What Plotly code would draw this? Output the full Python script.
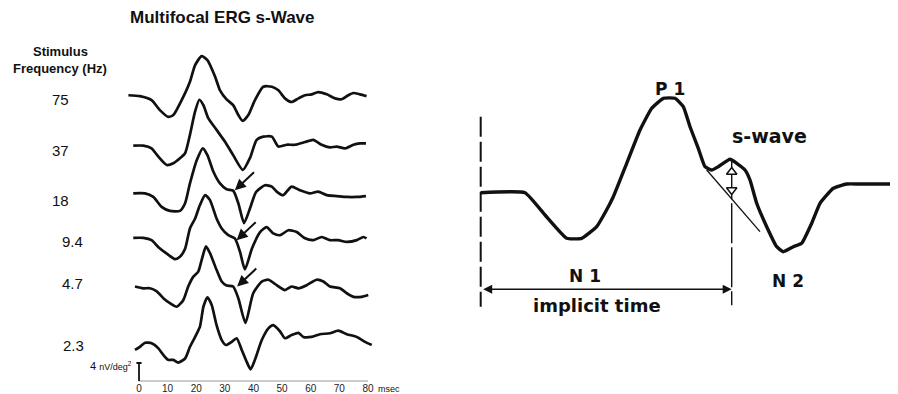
import plotly.graph_objects as go

# page body has an 8px margin: the figure is drawn from (8, 8) and fills the rest of the window
PAD = 8
W, H = 898 - PAD, 394 - PAD

# ---------------- data: multifocal ERG traces (ms, nV/deg^2) ----------------
freqs = ["75", "37", "18", "9.4", "4.7", "2.3"]

t75 = [-3.7, 0.3, 4.4, 7.3, 10.2, 12.0, 14.9, 17.8, 19.6, 21.9, 23.9, 26.6, 28.3, 30.6, 32.9,
       34.7, 36.2, 38.2, 40.5, 43.4, 46.4, 48.7, 51.0, 53.3, 55.7, 58.0, 60.3, 62.6, 65.6, 68.5,
       70.8, 73.1, 74.9, 77.2, 79.5]
a75 = [0.2, 0, -0.9, -3.1, -4.6, -4.2, -0.9, 3.2, 6.9, 8.9, 8.0, 4.3, 1.3, -0.7, -2.0,
       -4.2, -5.5, -4.2, -0.9, 2.1, 2.1, 1.3, -0.5, -1.3, -0.5, 0.2, 0.4, 0.9, 0.4, -0.5,
       -0.7, 0.2, 0.7, 0.4, 0]

t37 = [-2.0, 1.5, 4.4, 6.7, 9.7, 12.0, 14.3, 16.1, 17.8, 19.6, 21.1, 22.5, 24.2, 27.1, 30.0,
       32.9, 36.3, 38.8, 41.1, 43.4, 46.4, 48.7, 51.6, 54.5, 58.0, 60.9, 63.8, 66.7, 69.1, 72.0,
       74.9, 77.2, 79.3]
a37 = [0, 0, -0.6, -2.4, -4.3, -3.9, -2.8, -1.7, 2.4, 7.6, 10.2, 9.0, 6.1, 3.5, 0.9,
       -2.1, -5.4, -2.7, 1.3, 2.0, 2.0, -0.2, 0.2, 0.2, 0.8, 1.3, 0.2, -0.4, -0.2, -0.6,
       0.2, 0.5, 0.5]

t18 = [-2.0, 2.1, 5.0, 7.9, 10.8, 14.3, 16.1, 17.8, 20.2, 22.3, 23.9, 26.0, 28.3, 30.6, 32.9,
       34.7, 36.7, 38.8, 40.9, 44.0, 46.4, 48.1, 50.4, 53.3, 56.2, 59.7, 62.6, 65.6, 69.1, 72.6,
       76.1, 79.3]
a18 = [0, 0, -0.8, -3.0, -3.9, -3.9, -2.2, 2.2, 7.4, 10.0, 8.5, 4.8, 2.2, 0.9, 0.6,
       -2.2, -6.6, -3.3, 0.3, 1.8, 1.5, 0.4, -0.4, 1.5, 0.7, 0, 0.4, -0.4, -0.6, -0.8,
       -0.8, -0.6]

t94 = [-2.0, 1.5, 4.4, 6.7, 9.7, 12.6, 14.3, 16.1, 17.8, 19.6, 21.3, 23.1, 24.8, 27.1, 28.9,
       31.2, 33.5, 35.3, 37.0, 39.5, 42.3, 44.6, 46.9, 49.3, 52.2, 55.1, 58.0, 60.9, 63.8, 66.7,
       69.6, 72.6, 76.1, 78.4, 79.5]
a94 = [0, 0, -0.5, -2.0, -3.5, -4.7, -4.2, -2.4, 2.1, 4.3, 7.3, 9.5, 8.4, 4.3, 2.1,
       0.6, -0.1, -3.1, -7.0, -2.3, 1.3, 2.4, 1.0, 0.6, 1.7, 1.3, -0.1, -0.5, 0.2, -0.5,
       -0.5, -0.9, -0.5, 0.2, -0.1]

t47 = [-1.4, 1.5, 3.8, 6.2, 8.5, 10.8, 13.2, 15.5, 17.2, 19.0, 20.7, 21.9, 23.4, 24.8, 27.1,
       28.9, 30.6, 32.9, 34.7, 37.2, 39.9, 42.9, 45.2, 48.1, 51.0, 53.3, 55.7, 58.6, 62.1, 64.4,
       66.7, 70.2, 72.6, 74.9, 77.8, 80.1]
a47 = [0.1, -0.3, -0.3, -1.0, -2.5, -3.6, -4.4, -2.9, 0.1, 2.3, 3.4, 6.0, 9.0, 7.5, 3.8,
       1.2, 0.3, 0.1, -2.5, -8.0, -1.4, 1.2, 1.6, 0.4, -0.7, 0.1, -0.3, 0.4, 1.6, 1.2,
       0.1, -0.3, -1.4, -2.2, -2.2, -1.8]

t23 = [-1.4, 0.3, 2.1, 4.4, 6.7, 8.5, 10.2, 12.0, 13.7, 16.1, 17.8, 19.6, 21.3, 22.5, 23.9,
       25.4, 27.1, 28.9, 30.4, 32.4, 34.1, 35.9, 37.6, 39.0, 40.5, 42.9, 45.2, 46.9, 49.3, 51.0,
       53.3, 55.7, 57.4, 60.3, 63.2, 66.7, 69.6, 72.6, 76.1, 79.0, 81.3]
a23 = [-1.1, -0.4, 0.5, 0.4, -0.7, -2.2, -3.3, -3.3, -3.9, -3.0, -0.4, 1.8, 4.1, 8.5, 10.6,
       8.9, 4.4, 1.1, 0, 0.7, 1.5, -1.1, -3.7, -5.4, -3.3, 1.1, 3.7, 4.4, 3.0, 1.5,
       2.2, 2.7, 1.8, 1.8, 2.4, 2.6, 3.2, 2.4, 1.8, 0.7, 0]

# s-wave marks (arrows) on the 18, 9.4 and 4.7 Hz traces
swave_freq = ["18", "9.4", "4.7"]
swave_ms = [33.5, 34.1, 34.3]
swave_amp = [0.7, -0.5, 0.1]

tick_ms = [0, 10, 20, 30, 40, 50, 60, 70, 80]
scale_nv = 4

# ---------------- data: schematic waveform (arbitrary units) ----------------
sch_t = [0, 8.86, 12.86, 17.2, 20.2, 23.2, 25.06, 26.52, 29.2, 31.86, 34.2, 36.52, 38.86,
         40.52, 41.86, 43.52, 44.86, 46.2, 47.52, 49.86, 51.2, 52.86, 53.86, 55.2, 57.2,
         59.2, 60.52, 62.52, 64.2, 66.2, 67.86, 70.52, 73.2, 75.86, 83.4]
sch_a = [0, 0, -4.46, -9.12, -9.12, -6.8, -3.66, -0.8, 5.88, 12.54, 16.88, 18.88, 18.88,
         17.2, 13.2, 8.88, 5.2, 4.54, 5.2, 6.68, 5.88, 4.54, 2.54, -2.12, -6.8,
         -10.8, -11.8, -10.8, -10.12, -6.12, -2.12, 0.88, 1.74, 1.74, 1.74]
nos_t = [45.2, 55.86]          # course without the s-wave
nos_a = [4.54, -7.8]
implicit_end = 50.2
swave_top, swave_base = 4.14, 0.54

# ---------------- layout constants ----------------
offsets = [63.3, 52.3, 41.7, 31.8, 20.9, 8.0]   # vertical stacking of traces (nV)
X1 = [-4, 82]; X1_DOM = [(127.55 - PAD) / W, (373.7 - PAD) / W]
Y1 = [-2.889, 82.889]
X2 = [-4.14, 83.46]; X2_DOM = [(460 - PAD) / W, 1.0]
Y2 = [-40.26, 36.94]

fig = go.Figure()
ink = "#111111"
series = [(t75, a75), (t37, a37), (t18, a18), (t94, a94), (t47, a47), (t23, a23)]
for (t, a), off in zip(series, offsets):
    fig.add_trace(go.Scatter(x=t, y=[v + off for v in a], mode="lines",
                             line=dict(color=ink, width=2.7, shape="spline", smoothing=0.6),
                             xaxis="x", yaxis="y", hoverinfo="skip", showlegend=False))

# time axis line
fig.add_trace(go.Scatter(x=[tick_ms[0], tick_ms[-1]], y=[0, 0], mode="lines",
                         line=dict(color="#999999", width=1), xaxis="x", yaxis="y",
                         hoverinfo="skip", showlegend=False))
# calibration bar
fig.add_trace(go.Scatter(x=[0, 0, None, -0.9, 0.9], y=[0, scale_nv, None, scale_nv, scale_nv],
                         mode="lines", line=dict(color=ink, width=1.8), xaxis="x", yaxis="y",
                         hoverinfo="skip", showlegend=False))

# schematic
fig.add_trace(go.Scatter(x=sch_t, y=sch_a, mode="lines",
                         line=dict(color=ink, width=3.4, shape="spline", smoothing=0.4),
                         xaxis="x2", yaxis="y2", hoverinfo="skip", showlegend=False))
fig.add_trace(go.Scatter(x=nos_t, y=nos_a, mode="lines", line=dict(color=ink, width=1.3),
                         xaxis="x2", yaxis="y2", hoverinfo="skip", showlegend=False))
fig.add_trace(go.Scatter(x=[0, 0], y=[15.2, -22.8], mode="lines",
                         line=dict(color=ink, width=2, dash="20px,5px"),
                         xaxis="x2", yaxis="y2", hoverinfo="skip", showlegend=False))
fig.add_trace(go.Scatter(x=[implicit_end, implicit_end], y=[6.7, -22.5], mode="lines",
                         line=dict(color=ink, width=1.4, dash="40px,4px"),
                         xaxis="x2", yaxis="y2", hoverinfo="skip", showlegend=False))
fig.add_trace(go.Scatter(x=[implicit_end, implicit_end], y=[swave_top, swave_base], mode="markers",
                         marker=dict(symbol=["triangle-up", "triangle-down"], size=9, color="white",
                                     line=dict(color=ink, width=1.5)),
                         xaxis="x2", yaxis="y2", hoverinfo="skip", showlegend=False))

ann = []
def ptxt(text, px, py, size, bold=False, family="Liberation Sans, Arial", xanchor="center"):
    ann.append(dict(text=f"<b>{text}</b>" if bold else text, x=(px - PAD) / W,
                    y=1 - (py - PAD) / H, xref="paper", yref="paper", showarrow=False,
                    xanchor=xanchor, yanchor="middle",
                    font=dict(size=size, color=ink, family=family)))

ptxt("Multifocal ERG s-Wave", 222, 18, 17, bold=True)
ptxt("Stimulus", 60, 52, 13, bold=True)
ptxt("Frequency (Hz)", 60, 68, 13, bold=True)
label_pos = [(60, 100), (60, 150), (60, 200), (72, 241), (72, 283), (73, 345)]
for f, (px, py) in zip(freqs, label_pos):
    ptxt(f, px, py, 15)
ptxt("4 <span style='font-size:9px'>nV/deg<sup>2</sup></span>", 134, 366, 11, xanchor="right")
ptxt("msec", 376, 389, 9, xanchor="left")

# s-wave arrows
for f, sm, sa in zip(swave_freq, swave_ms, swave_amp):
    off = offsets[freqs.index(f)]
    ann.append(dict(x=sm, y=off + sa, ax=sm + 7.2, ay=off + sa + 4.3, xref="x", yref="y",
                    axref="x", ayref="y", text="", showarrow=True, arrowhead=2,
                    arrowsize=1.1, arrowwidth=2, arrowcolor=ink))

# implicit time double arrow
ann.append(dict(x=implicit_end, y=-19.32, ax=0.2, ay=-19.32, xref="x2", yref="y2",
                axref="x2", ayref="y2", text="", showarrow=True, arrowhead=2,
                arrowside="end+start", arrowsize=1.2, arrowwidth=1.5, arrowcolor=ink))

def stxt(text, x, y, size):
    ann.append(dict(text=f"<b>{text}</b>", x=x, y=y, xref="x2", yref="y2", showarrow=False,
                    xanchor="center", yanchor="middle",
                    font=dict(size=size, color=ink, family="DejaVu Sans")))

stxt("P 1", 37.76, 20.8, 17)
stxt("s-wave", 57.66, 11.34, 19)
stxt("N 1", 20.86, -16.56, 17)
stxt("N 2", 61.52, -17.56, 17)
stxt("implicit time", 23.26, -22.46, 18)

fig.update_layout(
    width=W, height=H, margin=dict(l=0, r=0, t=0, b=0),
    paper_bgcolor="white", plot_bgcolor="rgba(0,0,0,0)", showlegend=False,
    xaxis=dict(domain=X1_DOM, range=X1, showgrid=False, zeroline=False, showline=False,
               tickvals=tick_ms, ticktext=[str(v) for v in tick_ms], ticks="",
               tickfont=dict(size=10, color="#222", family="Liberation Sans, Arial"),
               anchor="free", position=13 / H, fixedrange=True),
    yaxis=dict(domain=[0, 1], range=Y1, visible=False, fixedrange=True),
    xaxis2=dict(domain=X2_DOM, range=X2, visible=False, anchor="y2"),
    yaxis2=dict(domain=[0, 1], range=Y2, visible=False, anchor="x2"),
    annotations=ann,
)

fig.write_html("out.html")
